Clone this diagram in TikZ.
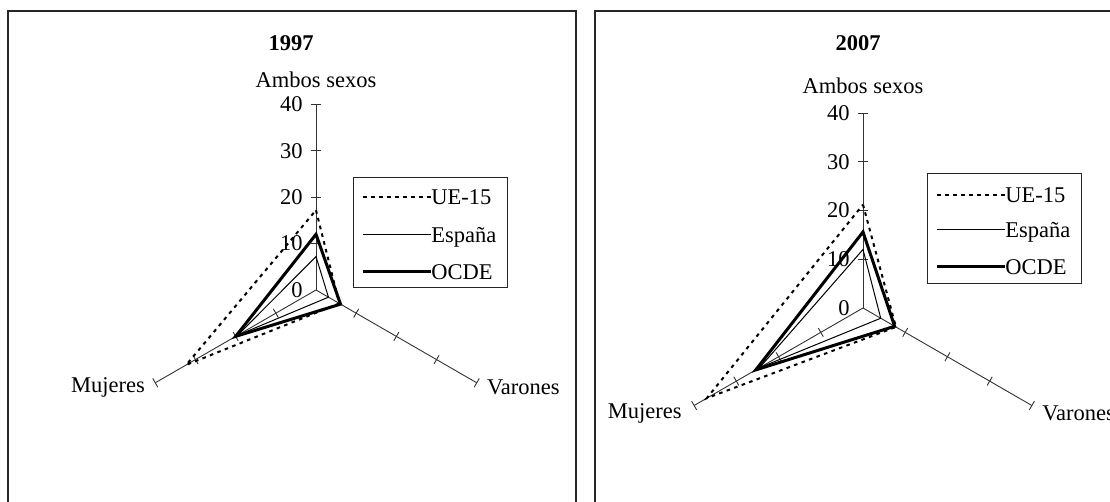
\documentclass[tikz,border=0pt]{standalone}
\usepackage{fontspec}
\setmainfont{Liberation Serif}
\begin{document}
\begin{tikzpicture}[x=0.5pt,y=0.5pt]
        \tikzstyle{frame}=[draw=black!85,line width=0.75pt]
        \tikzstyle{axis}=[draw=black!80,line width=0.45pt]
        \tikzstyle{ticklabel}=[font=\fontsize{11.25}{13}\selectfont,inner sep=0pt,anchor=east,xshift=-6.5pt]
        \tikzstyle{axlabel}=[font=\fontsize{11.25}{13}\selectfont,inner sep=0pt]
        \tikzstyle{title}=[font=\fontsize{11.25}{13}\selectfont\bfseries]
        \tikzstyle{legbox}=[draw=black!85,line width=0.5pt,inner sep=0pt,anchor=north west,minimum width=77pt,minimum height=55pt]
        \tikzstyle{legtext}=[font=\fontsize{11.25}{13}\selectfont,inner sep=0pt,anchor=west,text height=7.6pt,text depth=0pt]
        \tikzstyle{ue}=[line width=1pt,dash pattern=on 1.8pt off 2.2pt]
        \tikzstyle{es}=[line width=0.5pt]
        \tikzstyle{oc}=[line width=1.5pt,line join=miter]
        \clip (0,0) rectangle (1110,502);
        % frames
        \draw[frame] (8,-20) -- (8,491) -- (576,491) -- (576,-20);
        \draw[frame] (595,-20) -- (595,491) -- (1163,491) -- (1163,-20);
        \node[title] (t1) at (291,459) {1997};
        \node[title] (t2) at (858,459) {2007};
        % left radar, 1997
        \begin{scope}[shift={(316,212)},scale=4.64]
            \coordinate (o1) at (0,0);
            \coordinate (amb1) at (90:40);
            \coordinate (var1) at (-30:40);
            \coordinate (muj1) at (210:40);
            \path[axis] (o1) -- (amb1);
            \path[axis] (o1) -- (var1);
            \path[axis] (o1) -- (muj1);
            \path[axis] (90:10) ++(-1.08,0) -- ++(2.16,0) (90:20) ++(-1.08,0) -- ++(2.16,0)
                        (90:30) ++(-1.08,0) -- ++(2.16,0) (90:40) ++(-1.08,0) -- ++(2.16,0);
            \path[axis] (-30:10) ++(60:1.08) -- ++(240:2.16) (-30:20) ++(60:1.08) -- ++(240:2.16)
                        (-30:30) ++(60:1.08) -- ++(240:2.16) (-30:40) ++(60:1.08) -- ++(240:2.16);
            \path[axis] (210:10) ++(120:1.08) -- ++(300:2.16) (210:20) ++(120:1.08) -- ++(300:2.16)
                        (210:30) ++(120:1.08) -- ++(300:2.16) (210:40) ++(120:1.08) -- ++(300:2.16);
            \node[ticklabel] (n0a) at (90:0) {0};
            \node[ticklabel] (n10a) at (90:10) {10};
            \node[ticklabel] (n20a) at (90:20) {20};
            \node[ticklabel] (n30a) at (90:30) {30};
            \node[ticklabel] (n40a) at (90:40) {40};
            \node[axlabel,anchor=base,yshift=8.5pt] (tamb1) at (amb1) {Ambos sexos};
            \node[axlabel,anchor=east,xshift=-5pt,yshift=-2.5pt] (tmuj1) at (muj1) {Mujeres};
            \node[axlabel,anchor=west,xshift=5pt,yshift=-2.5pt] (tvar1) at (var1) {Varones};
            % series
            \coordinate (ue1a) at (90:17.2);
            \coordinate (ue1v) at (-30:5.8);
            \coordinate (ue1m) at (210:32.3);
            \coordinate (es1a) at (90:7.2);
            \coordinate (es1v) at (-30:3.1);
            \coordinate (es1m) at (210:19.5);
            \coordinate (oc1a) at (90:12);
            \coordinate (oc1v) at (-30:6.1);
            \coordinate (oc1m) at (210:20);
            \draw[ue] (ue1a) -- (ue1v) -- (ue1m) -- cycle;
            \draw[es] (es1a) -- (es1v) -- (es1m) -- cycle;
            \draw[oc] (oc1a) -- (oc1v) -- (oc1m) -- cycle;
        \end{scope}
        % left legend
        \node[legbox] (leg1) at (353,325) {};
        \node[legtext] (lue1) at (431,305) {UE-15};
        \node[legtext] (les1) at (431,267) {España};
        \node[legtext] (loc1) at (431,230) {OCDE};
        \coordinate (kue1) at (363,305);
        \coordinate (kes1) at (363,267);
        \coordinate (koc1) at (363,230);
        \draw[ue] (kue1) -- (lue1);
        \draw[es] (kes1) -- (les1);
        \draw[oc] (koc1) -- (loc1);
        % right radar, 2007
        \begin{scope}[shift={(863,194)},scale=4.875]
            \coordinate (o2) at (0,0);
            \coordinate (amb2) at (90:40);
            \coordinate (var2) at (-30:40);
            \coordinate (muj2) at (210:40);
            \path[axis] (o2) -- (amb2);
            \path[axis] (o2) -- (var2);
            \path[axis] (o2) -- (muj2);
            \path[axis] (90:10) ++(-1.03,0) -- ++(2.06,0) (90:20) ++(-1.03,0) -- ++(2.06,0)
                        (90:30) ++(-1.03,0) -- ++(2.06,0) (90:40) ++(-1.03,0) -- ++(2.06,0);
            \path[axis] (-30:10) ++(60:1.03) -- ++(240:2.06) (-30:20) ++(60:1.03) -- ++(240:2.06)
                        (-30:30) ++(60:1.03) -- ++(240:2.06) (-30:40) ++(60:1.03) -- ++(240:2.06);
            \path[axis] (210:10) ++(120:1.03) -- ++(300:2.06) (210:20) ++(120:1.03) -- ++(300:2.06)
                        (210:30) ++(120:1.03) -- ++(300:2.06) (210:40) ++(120:1.03) -- ++(300:2.06);
            \node[ticklabel] (n0b) at (90:0) {0};
            \node[ticklabel] (n10b) at (90:10) {10};
            \node[ticklabel] (n20b) at (90:20) {20};
            \node[ticklabel] (n30b) at (90:30) {30};
            \node[ticklabel] (n40b) at (90:40) {40};
            \node[axlabel,anchor=base,yshift=9.5pt] (tamb2) at (amb2) {Ambos sexos};
            \node[axlabel,anchor=east,xshift=-6pt,yshift=-4pt] (tmuj2) at (muj2) {Mujeres};
            \node[axlabel,anchor=west,xshift=5pt,yshift=-4pt] (tvar2) at (var2) {Varones};
            % series
            \coordinate (ue2a) at (90:21.2);
            \coordinate (ue2v) at (-30:7.8);
            \coordinate (ue2m) at (210:37);
            \coordinate (es2a) at (90:12);
            \coordinate (es2v) at (-30:4.2);
            \coordinate (es2m) at (210:24.5);
            \coordinate (oc2a) at (90:15.6);
            \coordinate (oc2v) at (-30:7.5);
            \coordinate (oc2m) at (210:25.4);
            \draw[ue] (ue2a) -- (ue2v) -- (ue2m) -- cycle;
            \draw[es] (es2a) -- (es2v) -- (es2m) -- cycle;
            \draw[oc] (oc2a) -- (oc2v) -- (oc2m) -- cycle;
        \end{scope}
        % right legend
        \node[legbox] (leg2) at (927,329) {};
        \node[legtext] (lue2) at (1005,307) {UE-15};
        \node[legtext] (les2) at (1005,272) {España};
        \node[legtext] (loc2) at (1005,235) {OCDE};
        \coordinate (kue2) at (937,307);
        \coordinate (kes2) at (937,272);
        \coordinate (koc2) at (937,235);
        \draw[ue] (kue2) -- (lue2);
        \draw[es] (kes2) -- (les2);
        \draw[oc] (koc2) -- (loc2);
\end{tikzpicture}
\end{document}
